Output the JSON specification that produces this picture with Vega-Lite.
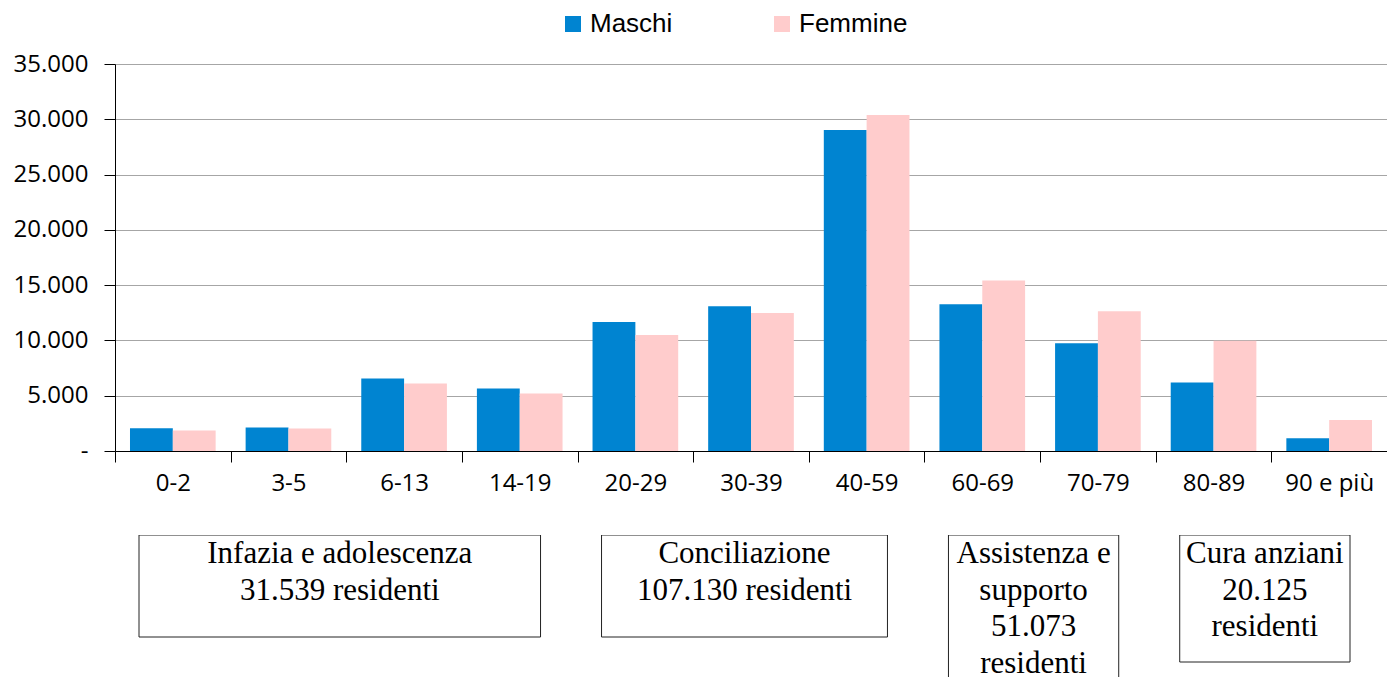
{
  "$schema": "https://vega.github.io/schema/vega-lite/v6.json",
  "padding": {"left": 13, "top": 11, "right": 0, "bottom": 0},
  "background": "white",
  "config": {
    "view": {"stroke": null},
    "font": "Open Sans",
    "axis": {"labelFont": "Open Sans", "labelFontSize": 24, "labelColor": "black", "tickColor": "black", "domainColor": "black", "tickSize": 11, "title": null}
  },
  "datasets": {
    "popolazione": [
      {"eta": "0-2", "sesso": "Maschi", "residenti": 2050},
      {"eta": "0-2", "sesso": "Femmine", "residenti": 1850},
      {"eta": "3-5", "sesso": "Maschi", "residenti": 2120},
      {"eta": "3-5", "sesso": "Femmine", "residenti": 2030},
      {"eta": "6-13", "sesso": "Maschi", "residenti": 6550},
      {"eta": "6-13", "sesso": "Femmine", "residenti": 6100},
      {"eta": "14-19", "sesso": "Maschi", "residenti": 5650},
      {"eta": "14-19", "sesso": "Femmine", "residenti": 5189},
      {"eta": "20-29", "sesso": "Maschi", "residenti": 11660},
      {"eta": "20-29", "sesso": "Femmine", "residenti": 10490},
      {"eta": "30-39", "sesso": "Maschi", "residenti": 13100},
      {"eta": "30-39", "sesso": "Femmine", "residenti": 12480},
      {"eta": "40-59", "sesso": "Maschi", "residenti": 29020},
      {"eta": "40-59", "sesso": "Femmine", "residenti": 30380},
      {"eta": "60-69", "sesso": "Maschi", "residenti": 13270},
      {"eta": "60-69", "sesso": "Femmine", "residenti": 15430},
      {"eta": "70-79", "sesso": "Maschi", "residenti": 9740},
      {"eta": "70-79", "sesso": "Femmine", "residenti": 12633},
      {"eta": "80-89", "sesso": "Maschi", "residenti": 6200},
      {"eta": "80-89", "sesso": "Femmine", "residenti": 9980},
      {"eta": "90 e più", "sesso": "Maschi", "residenti": 1150},
      {"eta": "90 e più", "sesso": "Femmine", "residenti": 2795}
    ],
    "gruppi": [
      {"gruppo": "Infazia e adolescenza\n31.539 residenti", "da": 0, "a": 4, "righe": 2},
      {"gruppo": "Conciliazione\n107.130 residenti", "da": 4, "a": 7, "righe": 2},
      {"gruppo": "Assistenza e\nsupporto\n51.073\nresidenti", "da": 7, "a": 9, "righe": 4},
      {"gruppo": "Cura anziani\n20.125\nresidenti", "da": 9, "a": 11, "righe": 3}
    ]
  },
  "bounds": "flush",
  "spacing": 84,
  "vconcat": [
    {
      "width": 1272,
      "height": 387,
      "data": {"name": "popolazione"},
      "mark": {"type": "bar"},
      "encoding": {
        "x": {
          "field": "eta", "type": "nominal",
          "sort": ["0-2", "3-5", "6-13", "14-19", "20-29", "30-39", "40-59", "60-69", "70-79", "80-89", "90 e più"],
          "scale": {"paddingInner": 0, "paddingOuter": 0},
          "axis": {"labelAngle": 0, "tickBand": "extent", "labelPadding": 9, "grid": false}
        },
        "xOffset": {
          "field": "sesso", "type": "nominal", "sort": ["Maschi", "Femmine"],
          "scale": {"paddingInner": 0, "paddingOuter": 0.35}
        },
        "y": {
          "field": "residenti", "type": "quantitative",
          "scale": {"domain": [0, 35000], "nice": false},
          "axis": {
            "values": [0, 5000, 10000, 15000, 20000, 25000, 30000, 35000],
            "labelExpr": "datum.value === 0 ? '-' : replace(format(datum.value, ','), ',', '.')",
            "labelPadding": 16,
            "grid": true, "gridColor": "#A6A6A6", "gridWidth": 1
          }
        },
        "color": {
          "field": "sesso", "type": "nominal",
          "scale": {"domain": ["Maschi", "Femmine"], "range": ["#0084D1", "#FFCCCC"]},
          "legend": {
            "orient": "none", "legendX": 445, "legendY": -53,
            "direction": "horizontal", "title": null,
            "symbolType": "square", "symbolSize": 256, "symbolStrokeWidth": 0,
            "labelFont": "Liberation Sans", "labelFontSize": 26, "labelColor": "black",
            "labelOffset": 4, "columnPadding": 96
          }
        }
      }
    },
    {
      "width": 1272,
      "height": 142,
      "data": {"name": "gruppi"},
      "layer": [
        {
          "mark": {"type": "rect", "fill": "white", "stroke": "#222222", "strokeWidth": 1, "clip": true, "xOffset": 24, "x2Offset": -37, "yOffset": 52},
          "encoding": {
            "x": {"field": "da", "type": "quantitative", "scale": {"domain": [0, 11], "nice": false, "zero": false}, "axis": null},
            "x2": {"field": "a"},
            "y": {"field": "righe", "type": "quantitative", "scale": {"domain": [0, 5.68], "reverse": true, "nice": false, "zero": false}, "axis": null},
            "y2": {"datum": 0}
          }
        },
        {
          "transform": [{"fold": ["da", "a"], "as": ["estremo", "pos"]}],
          "mark": {"type": "text", "font": "Liberation Serif", "fontSize": 31, "baseline": "top", "align": "center", "lineBreak": "\n", "lineHeight": 36.5, "dx": -6.5, "dy": 4, "color": "black"},
          "encoding": {
            "x": {"aggregate": "mean", "field": "pos", "type": "quantitative"},
            "y": {"datum": 0, "type": "quantitative"},
            "text": {"field": "gruppo"}
          }
        }
      ]
    }
  ]
}
